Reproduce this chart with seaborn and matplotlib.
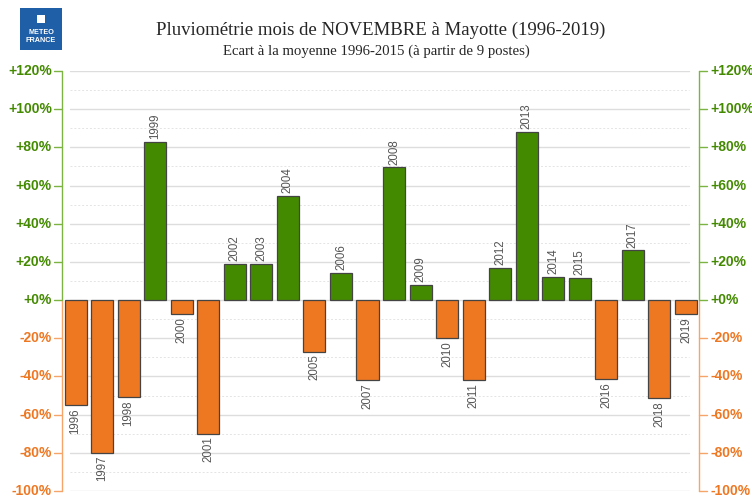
import matplotlib
matplotlib.use("Agg")
import matplotlib.pyplot as plt
import seaborn as sns
import pandas as pd
from matplotlib.patches import Rectangle

years = [str(y) for y in range(1996, 2020)]
values = [-55, -80, -51, 83, -7.5, -70, 19, 19, 54.5, -27, 14, -42,
          69.5, 8, -20, -42, 17, 88, 12, 11.5, -41.5, 26, -51.5, -7.5]
yticks = [-100, -80, -60, -40, -20, 0, 20, 40, 60, 80, 100, 120]

GREEN = "#438a00"
ORANGE = "#ee7722"
GREEN_AX = "#7cb342"
ORANGE_AX = "#f5a56a"

df = pd.DataFrame({"year": years, "val": values})
df["sign"] = ["pos" if v >= 0 else "neg" for v in values]

sns.set_style("white")
plt.rcParams["font.family"] = ["Liberation Sans", "DejaVu Sans"]

fig = plt.figure(figsize=(7.52, 4.96), dpi=100)
ax = fig.add_axes([62/752, 5/496, 637/752, 420/496])

# gridlines
for v in range(-100, 121, 10):
    if v % 20 == 0:
        ax.axhline(v, xmin=0.0126, xmax=0.984, color="#dddddd", lw=1.0, zorder=0)
    else:
        ax.axhline(v, xmin=0.0126, xmax=0.984, color="#e4e4e4", lw=0.7, ls=(0, (2, 2)), zorder=0)

sns.barplot(data=df, x="year", y="val", hue="sign", order=years,
            palette={"pos": GREEN, "neg": ORANGE}, dodge=False, width=0.83,
            saturation=1, edgecolor="#444444", linewidth=0.9, legend=False,
            ax=ax, zorder=2)

ax.set_xlim(-0.51, 23.49)
ax.set_ylim(-100, 120)
ax.set_xlabel("")
ax.set_ylabel("")
ax.set_xticks([])
ax.set_yticks([])
for s in ax.spines.values():
    s.set_visible(False)

# year labels
for i, (y, v) in enumerate(zip(years, values)):
    if v >= 0:
        ax.text(i, v + 1.5, y, rotation=90, ha="center", va="bottom",
                fontsize=8.3, color="#555555")
    else:
        ax.text(i, v - 1.5, y, rotation=90, ha="center", va="top",
                fontsize=8.3, color="#555555")

# axes lines (left & right), split colors
for xv in ax.get_xlim():
    ax.axvline(xv, ymin=100/220, ymax=1.0, color=GREEN_AX, lw=1.0, clip_on=False)
    ax.axvline(xv, ymin=0.0, ymax=100/220, color=ORANGE_AX, lw=1.0, clip_on=False)

def fmt(v):
    return ("+%d%%" % v) if v >= 0 else ("%d%%" % v)

trans_l = ax.get_yaxis_transform()
for v in yticks:
    c = GREEN if v >= 0 else ORANGE
    tc = GREEN_AX if v >= 0 else ORANGE_AX
    ax.plot([-0.012, 0.0], [v, v], transform=trans_l, color=tc, lw=1.0, clip_on=False)
    ax.plot([1.0, 1.012], [v, v], transform=trans_l, color=tc, lw=1.0, clip_on=False)
    ax.text(-0.016, v, fmt(v), transform=trans_l, ha="right", va="center",
            fontsize=10, fontweight="bold", color=c)
    ax.text(1.018, v, fmt(v), transform=trans_l, ha="left", va="center",
            fontsize=10, fontweight="bold", color=c)

# titles
fig.text(381/752, 1 - 30/496, "Pluviométrie mois de NOVEMBRE à Mayotte (1996-2019)",
         ha="center", va="center", fontsize=13.5, family=["Liberation Serif", "DejaVu Serif"])
fig.text(376/752, 1 - 51/496, "Ecart à la moyenne 1996-2015 (à partir de 9 postes)",
         ha="center", va="center", fontsize=10.6, family=["Liberation Serif", "DejaVu Serif"])

# logo
fig.patches.append(Rectangle((20/752, 1 - 50/496), 42/752, 42/496, transform=fig.transFigure,
                             facecolor="#1f5fa8", edgecolor="none"))
fig.patches.append(Rectangle((37/752, 1 - 23/496), 8/752, 8/496, transform=fig.transFigure,
                             facecolor="white", edgecolor="none"))
fig.text(41/752, 1 - 32/496, "METEO", ha="center", va="center", fontsize=5.2,
         color="white", fontweight="bold")
fig.text(41/752, 1 - 40/496, "FRANCE", ha="center", va="center", fontsize=5.2,
         color="white", fontweight="bold")

fig.savefig("out.png", dpi=100)
